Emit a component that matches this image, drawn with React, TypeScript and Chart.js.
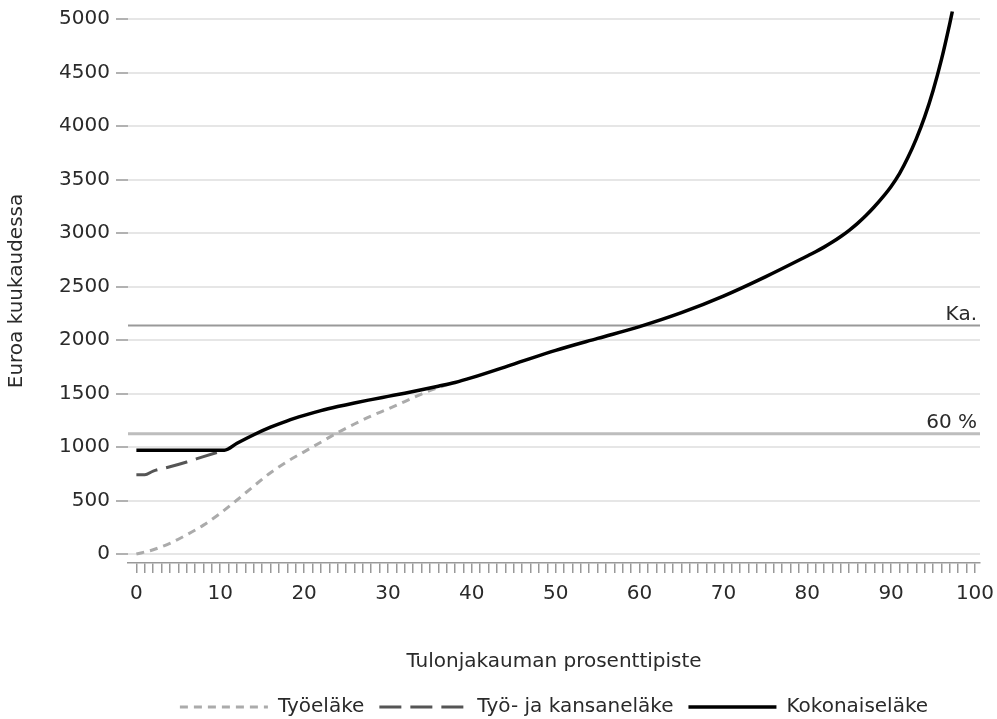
import React, { useEffect, useRef } from "react";
import { Chart, registerables } from "chart.js";

Chart.register(...registerables);

const FONT = "'DejaVu Sans', sans-serif";
const TEXT = "#2a2a2a";

// Työeläke (earnings-related pension)
const tyoPct = [0, 2, 4, 6, 8, 10, 12, 14, 16, 18, 20, 22, 24, 26, 28, 30, 32, 34, 36, 38];
const tyoValues = [0, 40, 100, 180, 270, 380, 505, 635, 760, 865, 955, 1045, 1135, 1215, 1290, 1355, 1425, 1495, 1555, 1603];

// Työ- ja kansaneläke (earnings-related + national pension)
const tkPct = [0, 1, 2, 4, 6, 8, 10.5];
const tkValues = [740, 740, 775, 815, 860, 910, 970];

// Kokonaiseläke (total pension)
const totalPct = [0, 2, 4, 6, 8, 10.5, 12, 14, 16, 18, 20, 22, 24, 26, 28, 30, 32, 34, 36, 38, 40, 45, 50, 55, 60, 65, 70, 75, 80, 81, 82, 83, 84, 85, 86, 87, 88, 89, 90, 91, 92, 93, 94, 95, 96, 97, 97.3];
const totalValues = [970, 970, 970, 970, 970, 970, 1035, 1115, 1185, 1245, 1295, 1340, 1378, 1412, 1443, 1473, 1503, 1535, 1568, 1603, 1648, 1775, 1903, 2015, 2125, 2255, 2410, 2590, 2785, 2825, 2868, 2915, 2967, 3025, 3090, 3163, 3245, 3335, 3435, 3555, 3705, 3880, 4085, 4330, 4620, 4960, 5070];

// Reference lines
const refLabels = ["Ka.", "60 %"];
const refValues = [2135, 1125];

const seriesNames = ["Työeläke", "Työ- ja kansaneläke", "Kokonaiseläke"];
const yTicks = [0, 500, 1000, 1500, 2000, 2500, 3000, 3500, 4000, 4500, 5000];
const xTickLabels = [0, 10, 20, 30, 40, 50, 60, 70, 80, 90, 100];
const xMinorTicks = Array.from({ length: 101 }, (_, i) => i);

const X_MIN = -1;
const X_MAX = 100.6;

const toPoints = (xs: number[], ys: number[]) => xs.map((x, i) => ({ x, y: ys[i] }));

export default function App() {
  const ref = useRef<HTMLCanvasElement | null>(null);

  useEffect(() => {
    if (!ref.current) return;

    const refLabelPlugin = {
      id: "refLabelPlugin",
      afterDatasetsDraw(chart: any) {
        const { ctx, chartArea, scales } = chart;
        ctx.save();
        ctx.font = `20px ${FONT}`;
        ctx.fillStyle = TEXT;
        ctx.textAlign = "right";
        ctx.textBaseline = "alphabetic";
        refLabels.forEach((t, i) => {
          ctx.fillText(t, chartArea.right - 3, scales.y.getPixelForValue(refValues[i]) - 6);
        });
        ctx.restore();
      },
    };

    const legendPlacement = {
      id: "legendPlacement",
      afterLayout(chart: any) {
        const lg = chart.legend;
        if (!lg) return;
        lg.left = chart.chartArea.left;
        lg.right = chart.chartArea.right;
        lg.top += 8;
        lg.bottom += 8;
      },
    };

    const chart = new Chart(ref.current, {
      type: "line",
      data: {
        datasets: [
          {
            label: seriesNames[0],
            data: toPoints(tyoPct, tyoValues),
            borderColor: "#ababab",
            borderWidth: 3,
            borderDash: [8, 6],
            pointRadius: 0,
            cubicInterpolationMode: "monotone",
            order: 3,
          },
          {
            label: seriesNames[1],
            data: toPoints(tkPct, tkValues),
            borderColor: "#555555",
            borderWidth: 3,
            borderDash: [22, 9],
            pointRadius: 0,
            cubicInterpolationMode: "monotone",
            order: 2,
          },
          {
            label: seriesNames[2],
            data: toPoints(totalPct, totalValues),
            borderColor: "#000000",
            borderWidth: 3.5,
            pointRadius: 0,
            cubicInterpolationMode: "monotone",
            clip: false,
            order: 1,
          },
          {
            label: refLabels[0],
            data: [
              { x: X_MIN, y: refValues[0] },
              { x: X_MAX, y: refValues[0] },
            ],
            borderColor: "#999999",
            borderWidth: 2,
            pointRadius: 0,
            order: 5,
          },
          {
            label: refLabels[1],
            data: [
              { x: X_MIN, y: refValues[1] },
              { x: X_MAX, y: refValues[1] },
            ],
            borderColor: "#bdbdbd",
            borderWidth: 3,
            pointRadius: 0,
            order: 5,
          },
        ] as any,
      },
      options: {
        animation: false,
        responsive: false,
        layout: { padding: { top: 19, right: 17, bottom: 0, left: 0 } },
        plugins: {
          tooltip: { enabled: false },
          legend: {
            position: "bottom",
            labels: {
              usePointStyle: true,
              pointStyle: "line",
              pointStyleWidth: 88,
              padding: 15,
              color: TEXT,
              font: { family: FONT, size: 20 },
              filter: (item: any) => item.datasetIndex < 3,
              sort: (a: any, b: any) => a.datasetIndex - b.datasetIndex,
              generateLabels: (c: any) => {
                const items = (Chart as any).defaults.plugins.legend.labels.generateLabels(c);
                return items.map((it: any) => {
                  const ds = c.data.datasets[it.datasetIndex];
                  return { ...it, lineDash: ds.borderDash || [], lineWidth: ds.borderWidth, strokeStyle: ds.borderColor };
                });
              },
            },
          },
        },
        scales: {
          x: {
            type: "linear",
            min: X_MIN,
            max: X_MAX,
            afterBuildTicks: (s: any) => {
              s.ticks = xMinorTicks.map((v) => ({ value: v }));
            },
            afterFit: (s: any) => {
              s.paddingLeft = 0;
              s.paddingRight = 0;
            },
            ticks: {
              autoSkip: false,
              maxRotation: 0,
              minRotation: 0,
              padding: 9,
              color: TEXT,
              font: { family: FONT, size: 20 },
              callback: (v: any) => (xTickLabels.includes(Number(v)) ? String(v) : ""),
            },
            grid: { drawOnChartArea: false, tickLength: 10, color: "#999999", lineWidth: 1.5 },
            border: { display: true, color: "#999999", width: 1.5 },
            title: {
              display: true,
              text: "Tulonjakauman prosenttipiste",
              color: TEXT,
              font: { family: FONT, size: 20 },
              padding: { top: 35, bottom: 0 },
            },
          },
          y: {
            type: "linear",
            min: -84,
            max: 5000,
            afterBuildTicks: (s: any) => {
              s.ticks = yTicks.map((v) => ({ value: v }));
            },
            afterFit: (s: any) => {
              s.width = 128;
            },
            ticks: {
              padding: 6,
              color: TEXT,
              font: { family: FONT, size: 20 },
              callback: (v: any) => String(v),
            },
            grid: { color: "#e6e6e6", lineWidth: 2, tickColor: "#999999", tickWidth: 1.5, tickLength: 12 },
            border: { display: false },
            title: {
              display: true,
              text: "Euroa kuukaudessa",
              color: TEXT,
              font: { family: FONT, size: 20 },
              padding: { top: 5, bottom: 0 },
            },
          },
        },
      } as any,
      plugins: [refLabelPlugin, legendPlacement],
    });

    return () => chart.destroy();
  }, []);

  return (
    <canvas
      ref={ref}
      width={997}
      height={719}
      style={{ position: "fixed", left: 0, top: 0, display: "block" }}
    />
  );
}
